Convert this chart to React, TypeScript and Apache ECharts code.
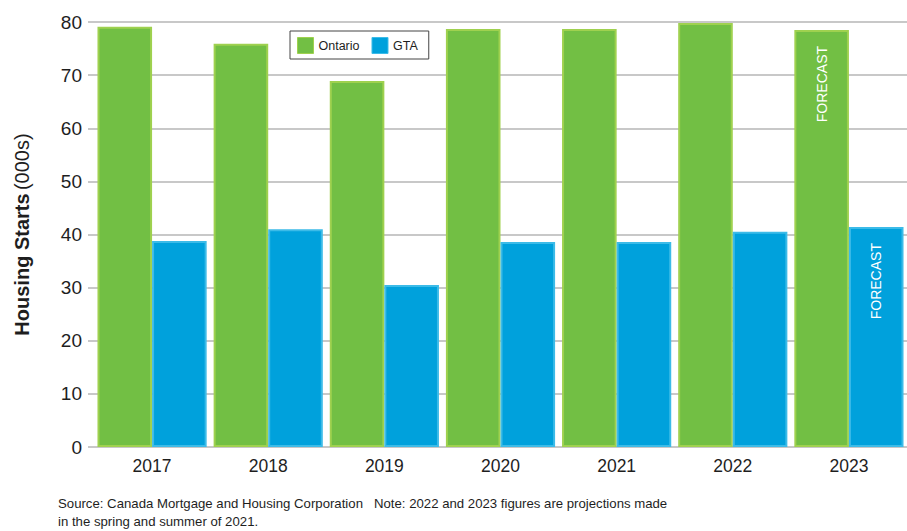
import React, { useEffect, useRef } from "react";
import * as echarts from "echarts";

const years = ["2017", "2018", "2019", "2020", "2021", "2022", "2023"];
const ontario = [79.1, 75.9, 68.9, 78.7, 78.7, 79.8, 78.5];
const gta = [38.8, 41.0, 30.5, 38.6, 38.6, 40.5, 41.4];
const forecastYears = ["2023"];
const yTicks = [0, 10, 20, 30, 40, 50, 60, 70, 80];

const FONT = "'Liberation Sans', Arial, sans-serif";
const INK = "#1e1e1e";
const GREEN = "#72bf44";
const GREEN_EDGE = "#9fd14f";
const BLUE = "#00a1dc";
const BLUE_EDGE = "#3cbbe8";

function seriesData(values: number[]) {
  return values.map((v, i) => {
    if (forecastYears.includes(years[i])) {
      return {
        value: v,
        label: {
          show: true,
          formatter: "FORECAST",
          position: "insideTop",
          rotate: 90,
          align: "right",
          verticalAlign: "middle",
          distance: 16,
          color: "#ffffff",
          fontFamily: FONT,
          fontSize: 14,
        },
      };
    }
    return v;
  });
}

export default function App() {
  const ref = useRef<HTMLDivElement>(null);

  useEffect(() => {
    if (!ref.current) return;
    const chart = echarts.init(ref.current, null, { renderer: "svg" });
    chart.setOption({
      animation: false,
      backgroundColor: "#ffffff",
      textStyle: { fontFamily: FONT },
      grid: { left: 94, right: 0, top: 22, bottom: 84, containLabel: false },
      legend: {
        left: 290,
        top: 31,
        icon: "rect",
        itemWidth: 16,
        itemHeight: 16,
        itemGap: 12,
        padding: [6, 11, 5, 7],
        borderColor: "#444444",
        borderWidth: 1,
        backgroundColor: "#ffffff",
        textStyle: { fontFamily: FONT, fontSize: 12.5, color: INK },
        data: [
          { name: "Ontario", itemStyle: { borderColor: GREEN_EDGE, borderWidth: 1 } },
          { name: "GTA", itemStyle: { borderColor: BLUE_EDGE, borderWidth: 1 } },
        ],
      },
      xAxis: {
        type: "category",
        data: years,
        axisLine: { show: true, lineStyle: { color: "#c8c8c8", width: 2 } },
        axisTick: { show: false },
        axisLabel: { fontFamily: FONT, fontSize: 17.5, color: INK, margin: 10 },
      },
      yAxis: {
        type: "value",
        min: 0,
        max: yTicks[yTicks.length - 1],
        interval: 10,
        name: "{b|Housing Starts} {r|(000s)}",
        nameLocation: "middle",
        nameRotate: 90,
        nameGap: 62,
        nameTextStyle: {
          rich: {
            b: { fontFamily: FONT, fontSize: 20, fontWeight: "bold", color: INK },
            r: { fontFamily: FONT, fontSize: 20, color: INK },
          },
        },
        axisLine: { show: false },
        axisTick: { show: true, length: 6, lineStyle: { color: "#c8c8c8", width: 2 } },
        axisLabel: { fontFamily: FONT, fontSize: 19, color: INK, margin: 12 },
        splitLine: { show: true, lineStyle: { color: "#c8c8c8", width: 2 } },
      },
      series: [
        {
          name: "Ontario",
          type: "bar",
          data: seriesData(ontario),
          barGap: "0%",
          barCategoryGap: "6%",
          itemStyle: { color: GREEN, borderColor: GREEN_EDGE, borderWidth: 2 },
        },
        {
          name: "GTA",
          type: "bar",
          data: seriesData(gta),
          itemStyle: { color: BLUE, borderColor: BLUE_EDGE, borderWidth: 2 },
        },
      ],
      graphic: [
        {
          type: "text",
          left: 58,
          top: 494,
          style: {
            text: "Source: Canada Mortgage and Housing Corporation   Note: 2022 and 2023 figures are projections made\nin the spring and summer of 2021.",
            fontFamily: FONT,
            fontSize: 13.2,
            lineHeight: 18,
            fill: INK,
          },
        },
      ],
    });
    return () => chart.dispose();
  }, []);

  return (
    <div
      ref={ref}
      style={{ position: "absolute", left: 0, top: 0, width: 907, height: 531 }}
    />
  );
}
